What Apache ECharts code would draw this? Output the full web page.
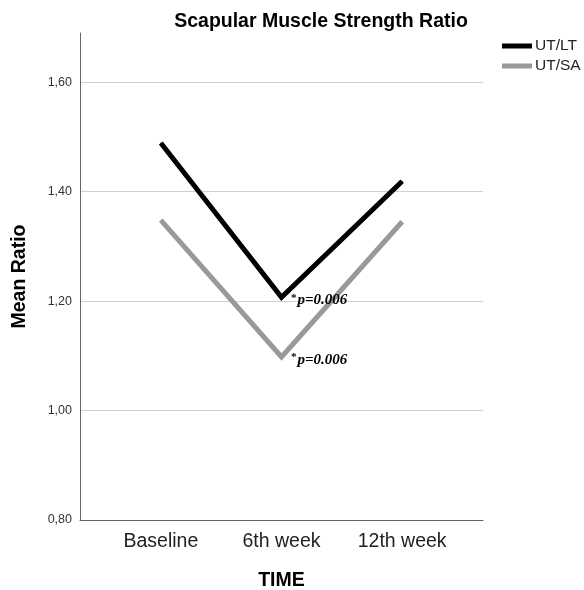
<!DOCTYPE html>
<html>
<head>
<meta charset="utf-8">
<script src="https://cdn.jsdelivr.net/npm/echarts@6/dist/echarts.min.js"></script>
<style>
	html, body { margin: 0; padding: 0; background: #fff; }
	#chart { width: 584px; height: 590px; }
</style>
</head>
<body>
<div id="chart"></div>
<script>
// data
const timePoints = ['Baseline', '6th week', '12th week']
const utLt = [1.489, 1.207, 1.419]
const utSa = [1.348, 1.098, 1.345]
const pNote = '0.006'

const font = 'Arial, "Liberation Sans", sans-serif'

// 6th week point gets the p-value note
const toPoints = (arr) =>
	arr.map((v, i) => {
		if (i !== 1) return [i, v]
		return {
			value: [i, v],
			label: {
				show: true,
				position: 'right',
				distance: 9,
				offset: [0, 3],
				formatter: '{s|*}{p|p=' + pNote + '}',
				rich: {
					s: { fontFamily: '"Liberation Serif", serif', fontWeight: 'bold', fontSize: 11, color: '#000', verticalAlign: 'top', padding: [0, 1, 5, 0] },
					p: { fontFamily: '"Liberation Serif", serif', fontWeight: 'bold', fontStyle: 'italic', fontSize: 15, color: '#000' },
				},
			},
		}
	})

const myChart = echarts.init(document.getElementById('chart'))
let option = {
	animation: false,
	title: {
		text: 'Scapular Muscle Strength Ratio',
		left: 316,
		textAlign: 'center',
		top: 7,
		textStyle: { fontFamily: font, fontSize: 19.5, fontWeight: 'bold', color: '#000' },
	},
	legend: {
		orient: 'vertical',
		left: 497,
		top: 33,
		itemWidth: 30,
		itemHeight: 5,
		itemGap: 4,
		icon: 'rect',
		textStyle: { fontFamily: font, fontSize: 15.5, color: '#222', padding: [0, 0, 0, -2] },
		data: ['UT/LT', 'UT/SA'],
	},
	grid: { left: 80, right: 101, top: 33, bottom: 70, containLabel: false, outerBoundsMode: 'none' },
	xAxis: {
		type: 'value',
		min: -0.67,
		max: 2.67,
		name: 'TIME',
		nameLocation: 'middle',
		nameGap: 51,
		nameTextStyle: { fontFamily: font, fontSize: 19.5, fontWeight: 'bold', color: '#000' },
		axisLine: { show: true, onZero: false, lineStyle: { color: '#666', width: 1 } },
		axisTick: { show: false },
		splitLine: { show: false },
		axisLabel: {
			customValues: [0, 1, 2],
			margin: 12,
			fontFamily: font,
			fontSize: 19.5,
			color: '#222',
			formatter: (v) => timePoints[Math.round(v)],
		},
	},
	yAxis: {
		type: 'value',
		min: 0.8,
		max: 1.69,
		interval: 0.2,
		name: 'Mean Ratio',
		nameLocation: 'middle',
		nameGap: 50,
		nameTextStyle: { fontFamily: font, fontSize: 19.5, fontWeight: 'bold', color: '#000' },
		axisLine: { show: true, onZero: false, lineStyle: { color: '#666', width: 1 } },
		axisTick: { show: false },
		splitLine: { show: true, showMinLine: false, showMaxLine: false, lineStyle: { color: '#d0d0d0', width: 1 } },
		axisLabel: {
			margin: 8,
			showMaxLabel: false,
			fontFamily: font,
			fontSize: 12.5,
			color: '#333',
			formatter: (v) => v.toFixed(2).replace('.', ','),
		},
	},
	series: [
		{
			name: 'UT/LT',
			type: 'line',
			symbol: 'circle',
			symbolSize: 1,
			color: '#000',
			lineStyle: { color: '#000', width: 5, join: 'miter', cap: 'butt' },
			data: toPoints(utLt),
			z: 3,
		},
		{
			name: 'UT/SA',
			type: 'line',
			symbol: 'circle',
			symbolSize: 1,
			color: '#999',
			lineStyle: { color: '#999', width: 5, join: 'miter', cap: 'butt' },
			data: toPoints(utSa),
			z: 2,
		},
	],
}
myChart.setOption(option)
</script>
</body>
</html>
